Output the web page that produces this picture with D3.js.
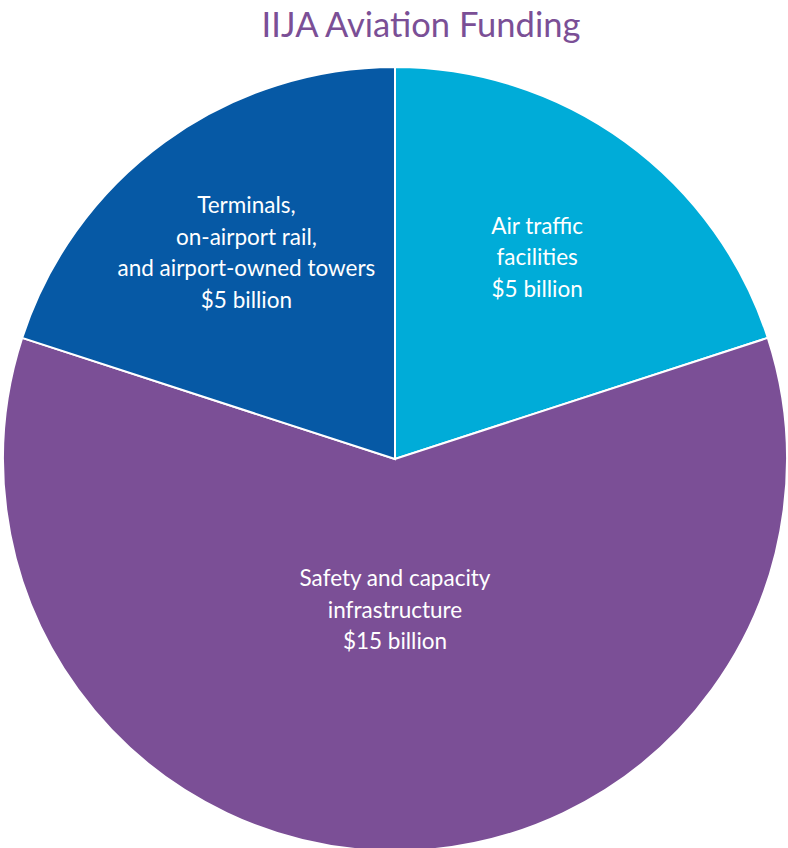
<!DOCTYPE html>
<html>
<head>
<meta charset="utf-8">
<script src="https://cdn.jsdelivr.net/npm/d3@7"></script>
<style>
  body { margin: 0; background: #fff; }
  svg { display: block; font-family: Lato, "Open Sans", sans-serif; }
</style>
</head>
<body>
<div id="viz"></div>
<script>
// slices, clockwise from 12 o'clock
const categories = ["Air traffic facilities", "Safety and capacity infrastructure", "Terminals, on-airport rail, and airport-owned towers"];
const values = [5, 15, 5];
const labelLines = [
  ["Air traffic", "facilities", "$5 billion"],
  ["Safety and capacity", "infrastructure", "$15 billion"],
  ["Terminals,", "on-airport rail,", "and airport-owned towers", "$5 billion"]
];
const colors = ["#00acd8", "#7b4f96", "#0659a5"];

let width = 788;
let height = 848;
let cx = 395, cy = 459, radius = 392;

let data = categories.map((c, i) => ({ name: c, value: values[i], lines: labelLines[i], color: colors[i] }));

let svg = d3.select("#viz").append("svg")
  .attr("width", width)
  .attr("height", height);

svg.append("text")
  .attr("x", 421)
  .attr("y", 37)
  .attr("text-anchor", "middle")
  .attr("fill", "#7b4f96")
  .style("font-size", "34.5px")
  .text("IIJA Aviation Funding");

let pie = d3.pie().sort(null).value(d => d.value);
let arc = d3.arc().innerRadius(0).outerRadius(radius);

let g = svg.append("g").attr("transform", `translate(${cx},${cy})`);

let arcs = pie(data);

g.selectAll("path")
  .data(arcs)
  .enter()
  .append("path")
  .attr("d", arc)
  .attr("fill", d => d.data.color)
  .attr("stroke", "#fff")
  .attr("stroke-width", 2);

// label radius as share of the pie radius
let labelFrac = [0.63, 0.39, 0.645];
let lineH = 31.5;

g.selectAll(".label")
  .data(arcs)
  .enter()
  .append("text")
  .attr("class", "label")
  .attr("text-anchor", "middle")
  .attr("fill", "#fff")
  .style("font-size", "22.5px")
  .each(function(d, i) {
    let r = radius * labelFrac[i];
    let c = d3.arc().innerRadius(r).outerRadius(r).centroid(d);
    let n = d.data.lines.length;
    let t = d3.select(this);
    d.data.lines.forEach((line, j) => {
      t.append("tspan")
        .attr("x", c[0] - (i === 0 ? 3 : 0))
        .attr("y", c[1] + (j - (n - 1) / 2) * lineH + 6)
        .text(line);
    });
  });
</script>
</body>
</html>
